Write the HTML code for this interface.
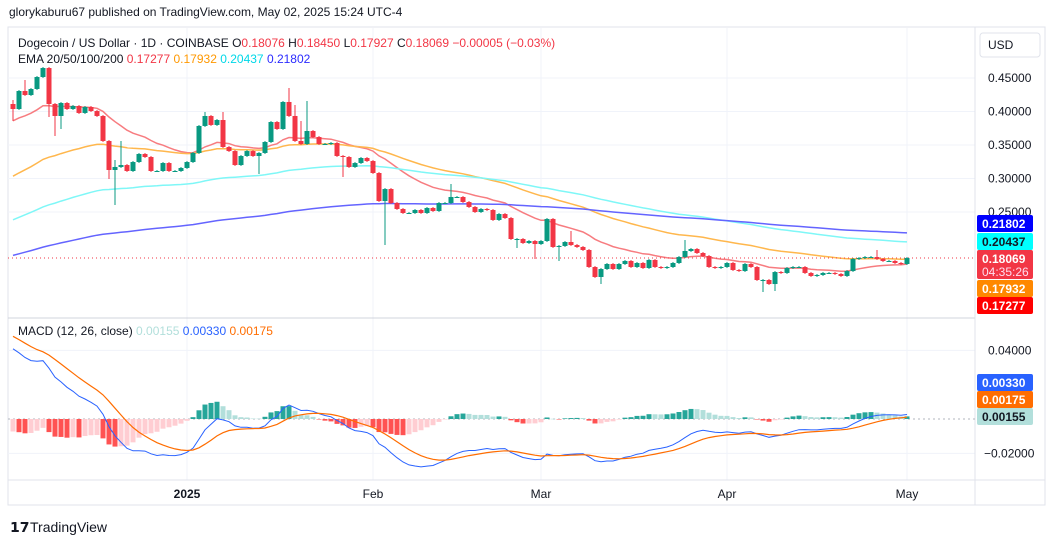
<!DOCTYPE html>
<html><head><meta charset="utf-8"><style>
body{margin:0;background:#fff;font-family:"Liberation Sans",Arial,sans-serif;}
#wrap{position:relative;width:1053px;height:545px;overflow:hidden;background:#fff}
svg text{font-family:"Liberation Sans",Arial,sans-serif}
</style></head><body>
<div id="wrap">
<svg id="s" width="1053" height="545" xmlns="http://www.w3.org/2000/svg">
<text x="9" y="16" font-size="12" fill="#131722">glorykaburu67 published on TradingView.com, May 02, 2025 15:24 UTC-4</text>
<rect x="8" y="27" width="1037" height="478" fill="none" stroke="#e0e3eb"/>
<g id="grid"></g>
<g id="pricePane"></g>
<line x1="8" y1="318" x2="975" y2="318" stroke="#d1d4dc"/>
<line x1="975" y1="27" x2="975" y2="505" stroke="#e0e3eb"/>
<line x1="8" y1="480" x2="1045" y2="480" stroke="#e0e3eb"/>
<g id="macdPane"></g>
<g id="axes"></g>
<text x="18" y="47" font-size="12" fill="#131722">Dogecoin / US Dollar · 1D · COINBASE <tspan fill="#131722">O</tspan><tspan fill="#f23645">0.18076</tspan> <tspan fill="#131722">H</tspan><tspan fill="#f23645">0.18450</tspan> <tspan fill="#131722">L</tspan><tspan fill="#f23645">0.17927</tspan> <tspan fill="#131722">C</tspan><tspan fill="#f23645">0.18069 −0.00005 (−0.03%)</tspan></text>
<text x="18" y="63" font-size="12" fill="#131722">EMA 20/50/100/200 <tspan fill="#f23645">0.17277</tspan> <tspan fill="#ff9800">0.17932</tspan> <tspan fill="#00d8e8">0.20437</tspan> <tspan fill="#2b2bff">0.21802</tspan></text>
<text x="18" y="335" font-size="12" fill="#131722">MACD (12, 26, close) <tspan fill="#b2dfdb">0.00155</tspan> <tspan fill="#2962ff">0.00330</tspan> <tspan fill="#ff6d00">0.00175</tspan></text>
<rect x="980" y="33" width="60" height="24" rx="3" fill="#fff" stroke="#e0e3eb"/>
<text x="988" y="49" font-size="12" fill="#131722">USD</text>
<g>
<rect x="977" y="215" width="56" height="17" rx="2" fill="#0000ff"/><text x="982" y="228" font-size="12" font-weight="bold" fill="#fff">0.21802</text>
<rect x="977" y="233" width="56" height="17" rx="2" fill="#00ffff"/><text x="982" y="246" font-size="12" font-weight="bold" fill="#131722">0.20437</text>
<rect x="977" y="250" width="56" height="29" rx="2" fill="#f23645"/><text x="982" y="263" font-size="12" font-weight="bold" fill="#fff">0.18069</text><text x="982" y="276" font-size="12" fill="#fde">04:35:26</text>
<rect x="977" y="280" width="56" height="17" rx="2" fill="#ff8800"/><text x="982" y="293" font-size="12" font-weight="bold" fill="#fff">0.17932</text>
<rect x="977" y="297" width="56" height="17" rx="2" fill="#ff0000"/><text x="982" y="310" font-size="12" font-weight="bold" fill="#fff">0.17277</text>
<rect x="977" y="374" width="56" height="17" rx="2" fill="#2962ff"/><text x="982" y="387" font-size="12" font-weight="bold" fill="#fff">0.00330</text>
<rect x="977" y="391" width="56" height="17" rx="2" fill="#ff6d00"/><text x="982" y="404" font-size="12" font-weight="bold" fill="#fff">0.00175</text>
<rect x="977" y="408" width="56" height="17" rx="2" fill="#b2dfdb"/><text x="982" y="421" font-size="12" font-weight="bold" fill="#131722">0.00155</text>
</g>
<g><text x="10" y="532" font-size="14" font-weight="bold" fill="#131722">𝟭𝟳</text><text x="30" y="532" font-size="14" fill="#131722">TradingView</text></g>
</svg>
</div>
<script>
const closes=[0.4037,0.4306,0.4246,0.4336,0.4515,0.4649,0.4112,0.3933,0.4127,0.4037,0.4082,0.3978,0.4067,0.4007,0.3933,0.3560,0.3127,0.3172,0.3201,0.3112,0.3246,0.3366,0.3321,0.3112,0.3112,0.3231,0.3112,0.3112,0.3157,0.3246,0.3381,0.3784,0.3933,0.3799,0.3873,0.3470,0.3410,0.3201,0.3336,0.3410,0.3336,0.3381,0.3545,0.3843,0.3739,0.4142,0.3933,0.3560,0.3515,0.3709,0.3619,0.3515,0.3515,0.3530,0.3336,0.3321,0.3172,0.3231,0.3306,0.3261,0.3082,0.2664,0.2843,0.2634,0.2545,0.2485,0.2485,0.2530,0.2485,0.2560,0.2515,0.2634,0.2634,0.2724,0.2724,0.2649,0.2575,0.2500,0.2545,0.2530,0.2381,0.2470,0.2410,0.2097,0.2097,0.2037,0.2067,0.2022,0.2067,0.2396,0.1978,0.1993,0.2052,0.2007,0.1978,0.1933,0.1679,0.1530,0.1649,0.1724,0.1649,0.1724,0.1769,0.1679,0.1739,0.1664,0.1784,0.1679,0.1664,0.1679,0.1739,0.1828,0.1918,0.1948,0.1888,0.1843,0.1679,0.1664,0.1679,0.1739,0.1634,0.1619,0.1724,0.1679,0.1485,0.1485,0.1425,0.1604,0.1590,0.1664,0.1679,0.1679,0.1590,0.1545,0.1560,0.1590,0.1590,0.1575,0.1545,0.1619,0.1799,0.1813,0.1828,0.1828,0.1799,0.1769,0.1769,0.1739,0.1724,0.1813];
const firstOpen=0.4112;
const wickHighIdx=[0,2,4,5,17,18,32,35,46,47,48,49,73,93,112,144];
const wickHighVal=[0.4157,0.4455,0.4440,0.4560,0.3261,0.3545,0.3978,0.3978,0.4336,0.4082,0.3843,0.4142,0.2903,0.2201,0.2067,0.1918];
const wickLowIdx=[0,6,7,8,16,17,41,55,62,84,87,91,98,125,127];
const wickLowVal=[0.3873,0.3933,0.3649,0.3754,0.3008,0.2619,0.3082,0.3037,0.2022,0.1978,0.1813,0.1784,0.1441,0.1321,0.1336];
const priceTicks=[0.45,0.40,0.35,0.30,0.25];
const macdTicks=[0.04,-0.02];
const monthLabels=["2025","Feb","Mar","Apr","May"];
const monthIdx=[29,60,88,119,149];
const emaPeriods=[20,50,100,200];
const emaSeeds=[0.3843,0.2993,0.2350,0.1830];
const emaColors=["#f77c80","#ffb74d","#7ff7f7","#6464ff"];
const macdSeeds=[0.425,0.379,0.050];

const NS="http://www.w3.org/2000/svg";
const xOf=i=>13+i*6;
const yP=p=>78+(0.45-p)*670;
const yM=v=>419-v*1717;
function mk(tag,attrs,parent){const e=document.createElementNS(NS,tag);for(const k in attrs)e.setAttribute(k,attrs[k]);parent.appendChild(e);return e;}
const grid=document.getElementById('grid'),pp=document.getElementById('pricePane'),mp=document.getElementById('macdPane'),ax=document.getElementById('axes');
const svg=document.getElementById('s');
const defs=mk('defs',{},svg);
const c1=mk('clipPath',{id:'cp1'},defs);mk('rect',{x:8,y:28,width:967,height:290},c1);
const c2=mk('clipPath',{id:'cp2'},defs);mk('rect',{x:8,y:319,width:967,height:161},c2);
pp.setAttribute('clip-path','url(#cp1)');mp.setAttribute('clip-path','url(#cp2)');

priceTicks.forEach(t=>{const y=yP(t);
 const l=mk('line',{x1:8,x2:975,y1:y,y2:y,stroke:'#f0f3fa'},grid);
 
 
 const tx=mk('text',{x:988,y:y+4,'font-size':12,fill:'#131722'},ax);tx.textContent=t.toFixed(5);
 
 });
macdTicks.forEach(t=>{const y=yM(t);
 const l=mk('line',{x1:8,x2:975,y1:y,y2:y,stroke:'#f0f3fa'},grid);
 
 
 const tx=mk('text',{x:t<0?984:988,y:y+4,'font-size':12,fill:'#131722'},ax);tx.textContent=(t<0?'−':'')+Math.abs(t).toFixed(5);
 
 });
monthLabels.forEach((m,k)=>{const x=xOf(monthIdx[k]);
 const l=mk('line',{x1:x,x2:x,y1:28,y2:480,stroke:'#f0f3fa'},grid);
 
 
 const tx=mk('text',{x:x,y:498,'font-size':12,fill:'#131722','text-anchor':'middle','font-weight':k===0?'bold':'normal'},ax);tx.textContent=m;
 
 });

// EMAs
emaPeriods.forEach((per,k)=>{let e=emaSeeds[k];const a=2/(per+1);const pts=[];
 closes.forEach((c,i)=>{e=e+a*(c-e);pts.push(xOf(i).toFixed(1)+','+yP(e).toFixed(1));});
 const pl=mk('polyline',{points:pts.join(' '),fill:'none',stroke:emaColors[k],'stroke-width':1.5},pp);
 
 });
// last price line
const lp=mk('line',{x1:8,x2:975,y1:yP(closes[closes.length-1]),y2:yP(closes[closes.length-1]),stroke:'#f23645','stroke-dasharray':'1,3'},pp);


// candles
closes.forEach((c,i)=>{const o=i===0?firstOpen:closes[i-1];const up=c>=o;const col=up?'#089981':'#f23645';
 let hi=Math.max(o,c),lo=Math.min(o,c);
 const hk=wickHighIdx.indexOf(i);if(hk>=0)hi=Math.max(hi,wickHighVal[hk]);
 const lk=wickLowIdx.indexOf(i);if(lk>=0)lo=Math.min(lo,wickLowVal[lk]);
 const x=xOf(i);
 const g=mk('g',{},pp);
 
 
 mk('line',{x1:x,x2:x,y1:yP(hi)-1,y2:yP(lo)+1,stroke:col,'stroke-width':1},g);
 const yt=yP(Math.max(o,c)),yb=yP(Math.min(o,c));
 mk('rect',{x:x-2.5,y:yt,width:5,height:Math.max(1,yb-yt),fill:col},g);});

// MACD
let e12=macdSeeds[0],e26=macdSeeds[1],sig=macdSeeds[2];const mA=[],sA=[],hA=[];
closes.forEach(c=>{e12+=2/13*(c-e12);e26+=2/27*(c-e26);const m=e12-e26;sig+=2/10*(m-sig);mA.push(m);sA.push(sig);hA.push(m-sig);});
const zl=mk('line',{x1:8,x2:975,y1:yM(0),y2:yM(0),stroke:'#b2b5be','stroke-dasharray':'2,3'},mp);


hA.forEach((h,i)=>{const prev=i?hA[i-1]:h;let col;
 if(h>=0)col=h>=prev?'#26a69a':'#b2dfdb';else col=h<prev?'#ff5252':'#ffcdd2';
 const y0=yM(0),y1=yM(h);
 const r=mk('rect',{x:xOf(i)-2.5,y:Math.min(y0,y1),width:5,height:Math.max(0.5,Math.abs(y1-y0)),fill:col},mp);
 
 });
const ml=mk('polyline',{points:mA.map((v,i)=>xOf(i)+','+yM(v).toFixed(1)).join(' '),fill:'none',stroke:'#2962ff','stroke-width':1},mp);


const sl=mk('polyline',{points:sA.map((v,i)=>xOf(i)+','+yM(v).toFixed(1)).join(' '),fill:'none',stroke:'#ff6d00','stroke-width':1.2},mp);


</script>
</body></html>
